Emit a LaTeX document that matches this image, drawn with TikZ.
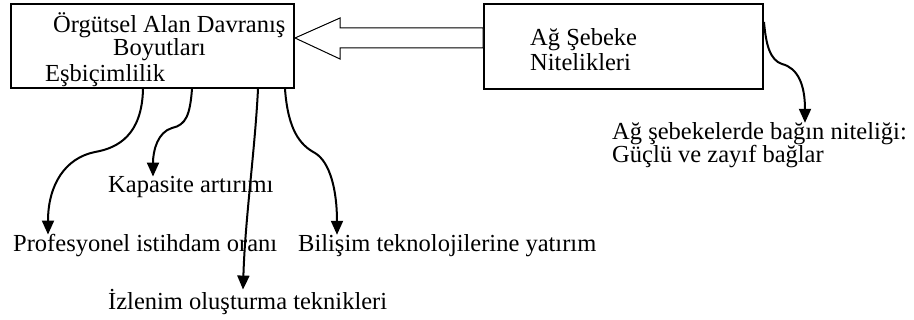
\documentclass[tikz,border=0pt]{standalone}
\usepackage{fontspec}
\setmainfont{Liberation Serif}
\usetikzlibrary{arrows.meta}
\begin{document}
\begin{tikzpicture}[x=1pt,y=-1pt,
  txt/.style={anchor=base west,inner sep=0pt,font=\fontsize{24.5}{24.5}\selectfont},
  boxx/.style={draw,line width=2pt,inner sep=0pt},
  conn/.style={line width=2pt,-{Triangle[length=14pt,width=12pt]}}]
\useasboundingbox (0,0) rectangle (914,320);
% boxes
\node[boxx,minimum width=283pt,minimum height=84pt,anchor=north west] (L) at (10,3) {};
\node[boxx,minimum width=279pt,minimum height=85pt,anchor=north west] (R) at (483,3) {};
% box texts
\node[txt] (l1) at (53,33) {Örgütsel Alan Davranış};
\node[txt] (l2) at (113,56) {Boyutları};
\node[txt] (l3) at (45,82) {Eşbiçimlilik};
\node[txt] (r1) at (530,46) {Ağ Şebeke};
\node[txt] (r2) at (530,71) {Nitelikleri};
% hollow arrow
\draw[line width=1pt,fill=white] (L.east |- 0,38) -- (340,18) -- (340,28) -- (R.west |- 0,28)
  -- (R.west |- 0,48) -- (340,48) -- (340,59) -- cycle;
% bottom texts
\node[txt] (t1) at (108,193) {Kapasite artırımı};
\node[txt] (t2) at (13,252) {Profesyonel istihdam oranı};
\node[txt] (t3) at (298,252) {Bilişim teknolojilerine yatırım};
\node[txt] (t4) at (108,310) {İzlenim oluşturma teknikleri};
\node[txt] (t5) at (612,140) {Ağ şebekelerde bağın niteliği:};
\node[txt] (t6) at (612,163) {Güçlü ve zayıf bağlar};
% connectors
\coordinate (a1) at (L.south -| 143,0);
\coordinate (a2) at (L.south -| 192,0);
\coordinate (a3) at (L.south -| 258,0);
\coordinate (a4) at (L.south -| 285,0);
\coordinate (a5) at (R.east |- 0,22);
\draw[conn] (a1) .. controls (142,135) and (118,148) .. (95,152) .. controls (65,158) and (48,185) .. (t2.north -| 48,0);
\draw[conn] (a2) .. controls (190,115) and (186,125) .. (172,128) .. controls (158,132) and (153,150) .. (t1.north -| 153,0);
\draw[conn] (a3) .. controls (255,150) and (245,220) .. (t4.north -| 243,0);
\draw[conn] (a4) .. controls (288,130) and (300,145) .. (315,153) .. controls (330,162) and (337,190) .. (t3.north -| 337,0);
\draw[conn] (a5) .. controls (766,45) and (770,60) .. (782,64) .. controls (798,68) and (805,85) .. (t5.north -| 805,0);
\end{tikzpicture}
\end{document}
